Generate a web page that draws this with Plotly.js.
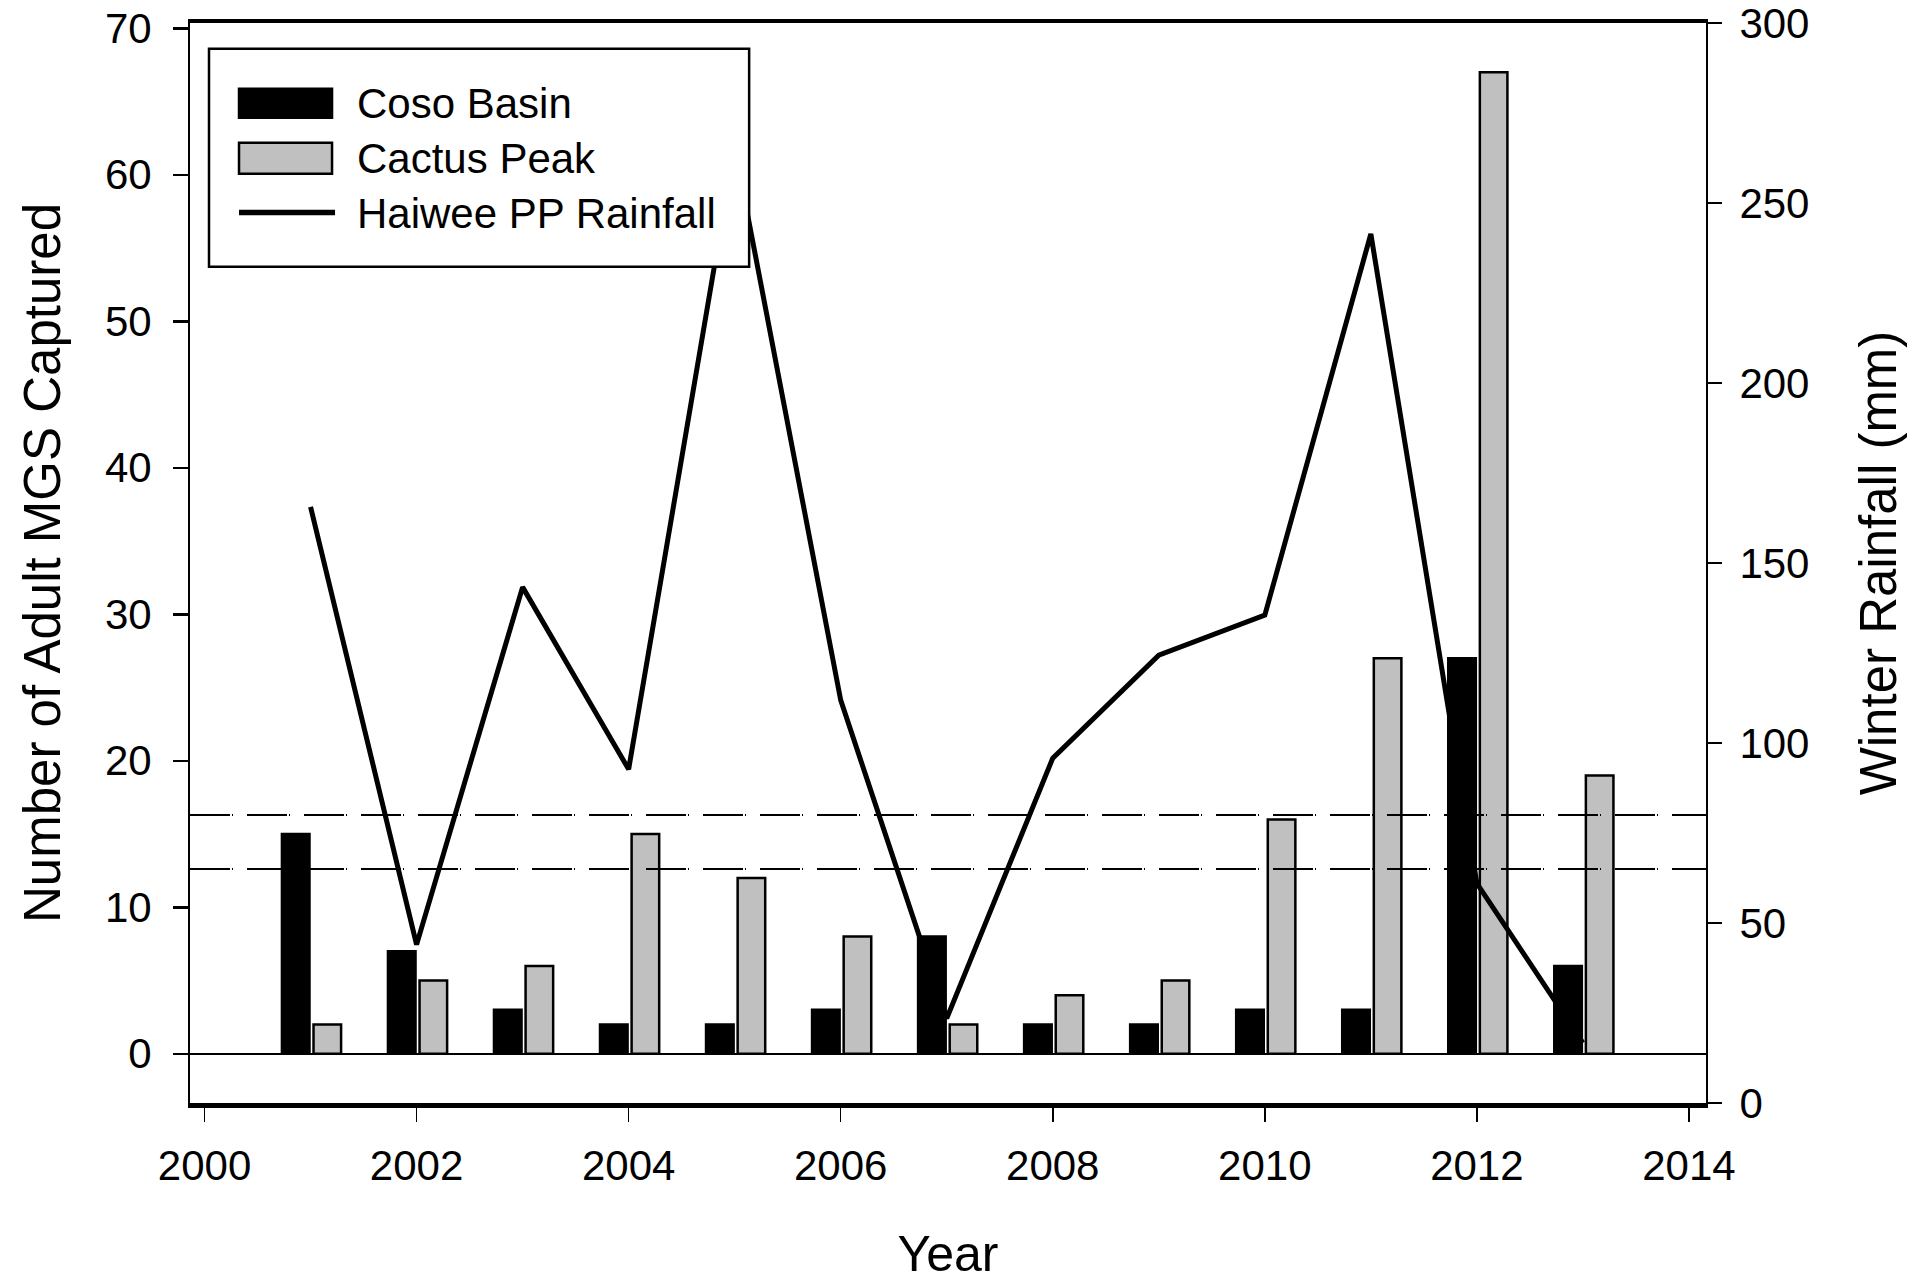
<!DOCTYPE html>
<html>
<head>
<meta charset="utf-8">
<script src="https://cdn.plot.ly/plotly-3.0.1.min.js"></script>
<style>
  html, body { margin: 0; padding: 0; background: #ffffff; }
  #chart { width: 1920px; height: 1282px; }
</style>
</head>
<body>
<div id="chart"></div>
<script>
// ---- Data ----
const years = [2001, 2002, 2003, 2004, 2005, 2006, 2007, 2008, 2009, 2010, 2011, 2012, 2013];
const cosoBasin = [15, 7, 3, 2, 2, 3, 8, 2, 2, 3, 3, 27, 6];
const cactusPeak = [2, 5, 6, 15, 12, 8, 2, 4, 5, 16, 27, 67, 19];
const haiweeRainfall = [165.6, 44, 143.3, 92.7, 265.5, 111.9, 23.5, 95.8, 124.4, 135.5, 241.4, 61, 16.7];
const rainfallRefLines = [80, 65];
const xTickVals = [2000, 2002, 2004, 2006, 2008, 2010, 2012, 2014];
const leftTickVals = [0, 10, 20, 30, 40, 50, 60, 70];
const rightTickVals = [0, 50, 100, 150, 200, 250, 300];
const seriesNames = ['Coso Basin', 'Cactus Peak', 'Haiwee PP Rainfall'];

// ---- Layout constants (pixels) ----
const W = 1920, H = 1282;
const M = { l: 190, r: 214.4, t: 23.3, b: 179.3 };
const PW = W - M.l - M.r, PH = H - M.t - M.b;
const px2x = p => (p - M.l) / PW;
const px2y = p => 1 - (p - M.t) / PH;

const FONT = '"Liberation Sans", Arial, Helvetica, sans-serif';
const GRAY = '#c0c0c0';

const traces = [
  {
    type: 'bar', name: seriesNames[0], x: years, y: cosoBasin,
    offset: -0.27, width: 0.26,
    marker: { color: '#000000', line: { color: '#000000', width: 2.5 } },
    xaxis: 'x', yaxis: 'y', showlegend: false, hoverinfo: 'skip'
  },
  {
    type: 'bar', name: seriesNames[1], x: years, y: cactusPeak,
    offset: 0.028, width: 0.26,
    marker: { color: GRAY, line: { color: '#000000', width: 2.5 } },
    xaxis: 'x', yaxis: 'y', showlegend: false, hoverinfo: 'skip'
  },
  {
    type: 'scatter', mode: 'lines', name: seriesNames[2], x: years, y: haiweeRainfall,
    line: { color: '#000000', width: 5 },
    xaxis: 'x', yaxis: 'y2', showlegend: false, hoverinfo: 'skip'
  }
];

// Reference (dash-dot) lines on the rainfall axis
const shapes = rainfallRefLines.map(v => ({
  type: 'line', xref: 'paper', x0: 0, x1: 1, yref: 'y2', y0: v, y1: v,
  line: { color: '#000000', width: 2, dash: '40px,2px,1px,14px' },
  layer: 'above'
}));

// Custom legend (box + symbols)
shapes.push({
  type: 'rect', xref: 'paper', yref: 'paper',
  x0: px2x(209), x1: px2x(749), y0: px2y(49), y1: px2y(267),
  fillcolor: '#ffffff', line: { color: '#000000', width: 2.5 }, layer: 'above'
});
shapes.push({
  type: 'rect', xref: 'paper', yref: 'paper',
  x0: px2x(239), x1: px2x(332), y0: px2y(89), y1: px2y(118),
  fillcolor: '#000000', line: { color: '#000000', width: 2.5 }, layer: 'above'
});
shapes.push({
  type: 'rect', xref: 'paper', yref: 'paper',
  x0: px2x(239), x1: px2x(332), y0: px2y(143), y1: px2y(174),
  fillcolor: GRAY, line: { color: '#000000', width: 2.5 }, layer: 'above'
});
shapes.push({
  type: 'line', xref: 'paper', yref: 'paper',
  x0: px2x(239), x1: px2x(335), y0: px2y(212.7), y1: px2y(212.7),
  line: { color: '#000000', width: 5.3 }, layer: 'above'
});

const legendTextY = [104, 158.7, 213.7];
const annotations = seriesNames.map((t, i) => ({
  xref: 'paper', yref: 'paper', x: px2x(355), y: px2y(legendTextY[i]),
  xanchor: 'left', yanchor: 'middle', text: t, showarrow: false,
  font: { family: FONT, size: 42, color: '#000000' }
}));

const layout = {
  width: W, height: H,
  margin: M,
  paper_bgcolor: '#ffffff', plot_bgcolor: '#ffffff',
  barmode: 'overlay',
  showlegend: false,
  font: { family: FONT, size: 42, color: '#000000' },
  xaxis: {
    range: [1999.863, 2014.161],
    tickvals: xTickVals, ticktext: xTickVals.map(String),
    ticks: 'outside', ticklen: 14, tickwidth: 1.5, tickcolor: '#000000',
    showline: true, linewidth: 4.5, linecolor: '#000000', mirror: true,
    showgrid: false, zeroline: false,
    tickfont: { family: FONT, size: 42 },
    ticklabelstandoff: 8, ticklabeloverflow: 'allow',
    title: { text: 'Year', font: { family: FONT, size: 50 }, standoff: 65 }
  },
  yaxis: {
    range: [-3.36, 70.36],
    tickvals: leftTickVals, ticktext: leftTickVals.map(String),
    ticks: 'outside', ticklen: 15, tickwidth: 2.5, tickcolor: '#000000',
    showline: true, linewidth: 2, linecolor: '#000000',
    showgrid: false,
    zeroline: true, zerolinecolor: '#000000', zerolinewidth: 2.5,
    tickfont: { family: FONT, size: 42 },
    ticklabelstandoff: 13, ticklabeloverflow: 'allow',
    title: { text: 'Number of Adult MGS Captured', font: { family: FONT, size: 51 }, standoff: 28 }
  },
  yaxis2: {
    overlaying: 'y', side: 'right',
    range: [0, 300],
    tickvals: rightTickVals, ticktext: rightTickVals.map(String),
    ticks: 'outside', ticklen: 14, tickwidth: 2.5, tickcolor: '#000000',
    showline: true, linewidth: 2, linecolor: '#000000',
    showgrid: false, zeroline: false,
    tickfont: { family: FONT, size: 42 },
    ticklabelstandoff: 9, ticklabeloverflow: 'allow',
    title: { text: 'Winter Rainfall (mm)', font: { family: FONT, size: 51 }, standoff: 52 }
  },
  shapes: shapes,
  annotations: annotations
};

Plotly.newPlot('chart', traces, layout, { displayModeBar: false, staticPlot: true });
</script>
</body>
</html>
